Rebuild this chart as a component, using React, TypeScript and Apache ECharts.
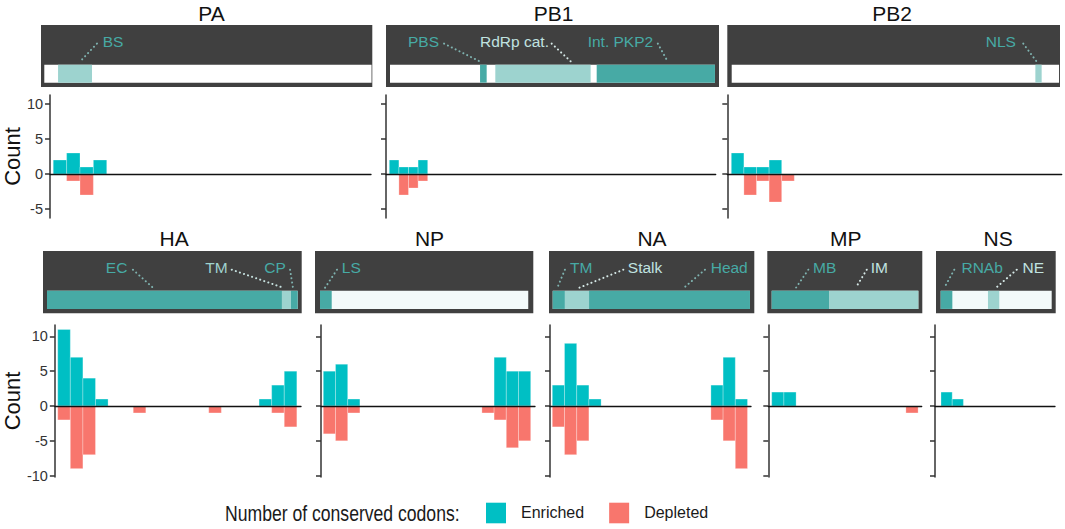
import React, { useEffect, useRef } from 'react';
import * as echarts from 'echarts';

// ---------- DATA ----------
const PROTEINS = ['PA', 'PB1', 'PB2', 'HA', 'NP', 'NA', 'MP', 'NS'];

// Number of conserved codons per position bin (index = bin along the protein)
const enrichedPA = [2, 3, 1, 2];
const depletedPA = [0, -1, -3, 0];
const enrichedPB1 = [2, 1, 1, 2];
const depletedPB1 = [0, -3, -2, -1];
const enrichedPB2 = [3, 1, 1, 2, 0];
const depletedPB2 = [0, -3, -1, -4, -1];
const enrichedHA = [11, 7, 4, 1, 0, 0, 0, 0, 0, 0, 0, 0, 0, 0, 0, 0, 1, 3, 5];
const depletedHA = [-2, -9, -7, 0, 0, 0, -1, 0, 0, 0, 0, 0, -1, 0, 0, 0, 0, -1, -3];
const enrichedNP = [5, 6, 1, 0, 0, 0, 0, 0, 0, 0, 0, 0, 0, 0, 7, 5, 5];
const depletedNP = [-4, -5, -1, 0, 0, 0, 0, 0, 0, 0, 0, 0, 0, -1, -2, -6, -5];
const enrichedNA = [3, 9, 3, 1, 0, 0, 0, 0, 0, 0, 0, 0, 0, 3, 7, 1];
const depletedNA = [-3, -7, -5, 0, 0, 0, 0, 0, 0, 0, 0, 0, 0, -2, -5, -9];
const enrichedMP = [2, 2, 0, 0, 0, 0, 0, 0, 0, 0, 0, 0];
const depletedMP = [0, 0, 0, 0, 0, 0, 0, 0, 0, 0, 0, -1];
const enrichedNS = [2, 1];
const depletedNS = [0, 0];

const ENRICHED = [enrichedPA, enrichedPB1, enrichedPB2, enrichedHA, enrichedNP, enrichedNA, enrichedMP, enrichedNS];
const DEPLETED = [depletedPA, depletedPB1, depletedPB2, depletedHA, depletedNP, depletedNA, depletedMP, depletedNS];

const yTicksTop = [-5, 0, 5, 10];
const yTicksBottom = [-10, -5, 0, 5, 10];

// Protein length (in bins) and domain extents [start, end, tone]
const trackLength = [23.8, 33.85, 25.98, 19.08, 17.07, 16.17, 12.02, 9.91];
const domainsPA = [[1.0, 3.47, 'light']];
const domainsPB1 = [[9.38, 10.07, 'dark'], [10.97, 20.9, 'light'], [21.53, 33.85, 'dark']];
const domainsPB2 = [[24.1, 24.6, 'light']];
const domainsHA = [[0, 17.88, 'dark'], [17.88, 18.57, 'light'], [18.57, 19.08, 'dark']];
const domainsNP = [[0, 0.96, 'dark']];
const domainsNA = [[0, 1.0, 'dark'], [1.0, 2.98, 'light'], [2.98, 16.17, 'dark']];
const domainsMP = [[0, 4.7, 'dark'], [4.7, 12.02, 'light']];
const domainsNS = [[0, 1.04, 'dark'], [4.22, 5.23, 'light']];
const DOMAINS = [domainsPA, domainsPB1, domainsPB2, domainsHA, domainsNP, domainsNA, domainsMP, domainsNS];

// Domain labels: [text, label centre, leader start, leader end, tone]
const labelsPA = [['BS', 5.0, 3.83, 2.6, 'dark']];
const labelsPB1 = [['PBS', 3.49, 5.63, 9.38, 'dark'], ['RdRp cat.', 12.97, 16.84, 18.85, 'light'], ['Int. PKP2', 24.0, 27.9, 28.93, 'dark']];
const labelsPB2 = [['NLS', 21.36, 23.14, 24.2, 'dark']];
const labelsHA = [['EC', 5.3, 6.54, 8.07, 'dark'], ['TM', 12.9, 14.06, 17.98, 'mid'], ['CP', 17.35, 18.5, 18.72, 'dark']];
const labelsNP = [['LS', 2.57, 1.39, 0.41, 'dark']];
const labelsNA = [['TM', 2.33, 1.0, 0.38, 'dark'], ['Stalk', 7.57, 5.79, 2.18, 'light'], ['Head', 14.47, 12.48, 10.76, 'dark']];
const labelsMP = [['MB', 4.34, 3.0, 1.99, 'dark'], ['IM', 8.82, 7.79, 6.89, 'light']];
const labelsNS = [['RNAb', 3.7, 1.21, 0.32, 'dark'], ['NE', 8.26, 6.79, 4.94, 'light']];
const LABELS = [labelsPA, labelsPB1, labelsPB2, labelsHA, labelsNP, labelsNA, labelsMP, labelsNS];

// ---------- LAYOUT / STYLE ----------
const plotLayout = [
  // [plotLeft, plotRight, bin0Px, binPx, row]
  [41, 371, 44.3, 13.75, 0],
  [386, 715.7, 389.3, 9.6, 0],
  [727.3, 1061.7, 731.3, 12.6, 0],
  [44, 301, 47, 13.14, 1],
  [321, 535, 323.3, 12.2, 1],
  [550, 751, 552.3, 12.2, 1],
  [768.3, 921.7, 771.7, 12.2, 1],
  [935, 1055, 941, 11.2, 1],
];
const trackLayout = [
  // [boxLeft, boxRight, white0Px, binPx]
  [41, 372.3, 44.3, 13.75],
  [386, 719, 390, 9.6],
  [727.3, 1060, 731.7, 12.6],
  [43, 301.7, 47, 13.14],
  [315, 533.3, 320, 12.2],
  [549, 754.3, 552.7, 12.2],
  [767.3, 922.3, 771.7, 12.2],
  [936, 1055.7, 940.7, 11.2],
];
const rowLayout = [
  { plotTop: 95, plotBottom: 218, zeroPx: 174, unitPx: 7, boxTop: 25, boxBottom: 87, titleY: 13, ticks: yTicksTop },
  { plotTop: 325, plotBottom: 477, zeroPx: 406, unitPx: 6.96, boxTop: 251, boxBottom: 313.3, titleY: 238.5, ticks: yTicksBottom },
];
const titleX = [211.5, 553.7, 892, 174.2, 429.5, 652, 845.8, 998.2];
const trackBase = ['#ffffff', '#ffffff', '#ffffff', '#ffffff', '#f3fafa', '#ffffff', '#ffffff', '#f3fafa'];

const C_ENRICHED = '#00BFC4';
const C_DEPLETED = '#F8766D';
const C_DARK = '#47aaa5';
const C_LIGHT = '#9dd3cf';
const LABEL_COLORS: Record<string, string> = { dark: '#47aaa5', mid: '#9fd3cf', light: '#c0e3e0' };
const LEADER_COLORS: Record<string, string> = { dark: '#7fb3b0', mid: '#c6e1df', light: '#d6e9e7' };
const FONT = '"Liberation Sans", Arial, sans-serif';

function buildOption() {
  const grids: any[] = [];
  const xAxes: any[] = [];
  const yAxes: any[] = [];
  const series: any[] = [];
  const graphics: any[] = [];

  PROTEINS.forEach((name, i) => {
    const [pl, pr, b0, bp, row] = plotLayout[i];
    const R = rowLayout[row];
    grids.push({ left: pl, top: R.plotTop, width: pr - pl, height: R.plotBottom - R.plotTop, containLabel: false });
    xAxes.push({
      gridIndex: i, type: 'value', min: (pl - b0) / bp, max: (pr - b0) / bp, z: 5,
      axisLine: { show: true, onZero: true, lineStyle: { color: '#111', width: 1.3 } },
      axisTick: { show: false }, axisLabel: { show: false }, splitLine: { show: false },
    });
    const first = i === 0 || i === 3;
    yAxes.push({
      gridIndex: i, type: 'value',
      min: -(R.plotBottom - R.zeroPx) / R.unitPx, max: (R.zeroPx - R.plotTop) / R.unitPx,
      axisLine: { show: true, onZero: false, lineStyle: { color: '#333', width: 1.5 } },
      axisTick: { show: true, length: 5, customValues: R.ticks, lineStyle: { color: '#333', width: 1.5 } },
      axisLabel: { show: first, customValues: R.ticks, margin: 7, color: '#333', fontSize: 14.5, fontFamily: FONT },
      splitLine: { show: false },
      name: first ? 'Count' : '', nameLocation: 'middle', nameGap: 23,
      nameTextStyle: { fontSize: 22, color: '#111', fontFamily: FONT },
    });

    const barRender = (color: string) => (params: any, api: any) => {
      const k = api.value(0);
      const v = api.value(1);
      const p0 = api.coord([k, 0]);
      const p1 = api.coord([k + 1, v]);
      return {
        type: 'rect',
        shape: { x: p0[0], y: Math.min(p0[1], p1[1]), width: p1[0] - p0[0], height: Math.abs(p1[1] - p0[1]) },
        style: { fill: color, stroke: 'rgba(255,255,255,0.45)', lineWidth: 0.6 },
      };
    };
    series.push({
      type: 'custom', name: 'Enriched', xAxisIndex: i, yAxisIndex: i, silent: true,
      itemStyle: { color: C_ENRICHED },
      data: ENRICHED[i].map((v, k) => [k, v]).filter((d) => d[1] !== 0),
      renderItem: barRender(C_ENRICHED),
    });
    series.push({
      type: 'custom', name: 'Depleted', xAxisIndex: i, yAxisIndex: i, silent: true,
      itemStyle: { color: C_DEPLETED },
      data: DEPLETED[i].map((v, k) => [k, v]).filter((d) => d[1] !== 0),
      renderItem: barRender(C_DEPLETED),
    });

    graphics.push({
      type: 'text', x: titleX[i], y: R.titleY,
      style: { text: name, fill: '#111', font: '21px ' + FONT, textAlign: 'center', textVerticalAlign: 'middle' },
    });
  });

  // domain tracks
  PROTEINS.forEach((name, i) => {
    const [bl, br, w0, bp] = trackLayout[i];
    const R = rowLayout[plotLayout[i][4]];
    const g = 8 + i;
    grids.push({
      left: bl, top: R.boxTop, width: br - bl, height: R.boxBottom - R.boxTop,
      show: true, backgroundColor: '#404040', borderWidth: 0, containLabel: false,
    });
    xAxes.push({ gridIndex: g, type: 'value', min: (bl - w0) / bp, max: (br - w0) / bp, show: false });
    yAxes.push({ gridIndex: g, type: 'value', min: 0, max: 1, show: false });

    const segs = [[0, trackLength[i], 'base'], ...DOMAINS[i]];
    series.push({
      type: 'custom', name: name + ' domains', xAxisIndex: g, yAxisIndex: g, silent: true,
      data: segs.map((s) => [s[0], s[1]]),
      renderItem: (params: any, api: any) => {
        const tone = segs[params.dataIndex][2];
        const a = api.coord([api.value(0), 0.36]);
        const b = api.coord([api.value(1), 0.07]);
        const fill = tone === 'base' ? trackBase[i] : tone === 'dark' ? C_DARK : C_LIGHT;
        return { type: 'rect', shape: { x: a[0], y: a[1], width: b[0] - a[0], height: b[1] - a[1] }, style: { fill } };
      },
    });
    const labs = LABELS[i];
    series.push({
      type: 'custom', name: name + ' labels', xAxisIndex: g, yAxisIndex: g, silent: true,
      data: labs.map((l) => [l[1], l[2], l[3]]),
      renderItem: (params: any, api: any) => {
        const lab = labs[params.dataIndex];
        const tone = lab[4] as string;
        const t = api.coord([api.value(0), 0.735]);
        const s = api.coord([api.value(1), 0.7]);
        const e = api.coord([api.value(2), 0.41]);
        return {
          type: 'group',
          children: [
            {
              type: 'line', shape: { x1: s[0], y1: s[1], x2: e[0], y2: e[1] },
              style: { stroke: LEADER_COLORS[tone], lineWidth: 2, lineDash: [0.1, 4.2], lineCap: 'round' },
            },
            {
              type: 'text',
              style: { text: lab[0], x: t[0], y: t[1], fill: LABEL_COLORS[tone], font: '15.5px ' + FONT, textAlign: 'center', textVerticalAlign: 'middle' },
            },
          ],
        };
      },
    });
  });

  graphics.push({
    type: 'text', x: 225, y: 513, scaleX: 0.8, scaleY: 1,
    style: { text: 'Number of conserved codons:', fill: '#1a1a1a', font: '22px ' + FONT, textAlign: 'left', textVerticalAlign: 'middle' },
  });

  return {
    animation: false,
    backgroundColor: '#ffffff',
    grid: grids,
    xAxis: xAxes,
    yAxis: yAxes,
    series,
    graphic: graphics,
    legend: {
      data: ['Enriched', 'Depleted'], left: 486, top: 502.7, padding: 0,
      itemWidth: 20, itemHeight: 20.6, itemGap: 25, icon: 'rect', selectedMode: false,
      textStyle: { fontFamily: FONT, fontSize: 16, color: '#1a1a1a', padding: [0, 0, 0, 10] },
    },
  };
}

export default function App() {
  const ref = useRef<HTMLDivElement>(null);
  useEffect(() => {
    if (!ref.current) return;
    const chart = echarts.init(ref.current, undefined, { renderer: 'svg' });
    chart.setOption(buildOption() as any);
    return () => chart.dispose();
  }, []);
  return <div ref={ref} style={{ position: 'fixed', left: 0, top: 0, width: '1065px', height: '529px' }} />;
}
